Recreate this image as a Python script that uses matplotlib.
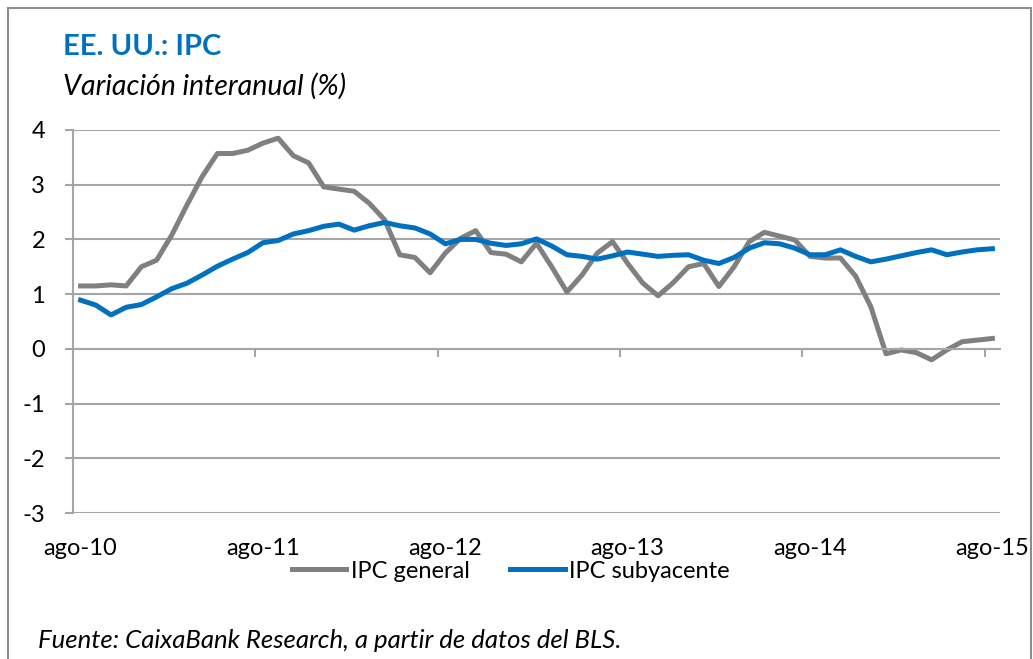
import matplotlib.pyplot as plt
from matplotlib.patches import Rectangle

plt.rcParams['font.family'] = ['Lato', 'DejaVu Sans']

# monthly, ago-10 .. ago-15
ipc_general = [1.15, 1.15, 1.17, 1.15, 1.50, 1.62, 2.08, 2.63, 3.15, 3.57,
               3.57, 3.63, 3.76, 3.85, 3.53, 3.40, 2.96, 2.92, 2.88, 2.66,
               2.36, 1.72, 1.67, 1.39, 1.75, 2.02, 2.16, 1.76, 1.73, 1.59,
               1.93, 1.50, 1.04, 1.35, 1.75, 1.96, 1.56, 1.20, 0.97, 1.21,
               1.50, 1.56, 1.14, 1.50, 1.96, 2.13, 2.06, 1.99, 1.69, 1.66,
               1.66, 1.33, 0.77, -0.09, -0.02, -0.07, -0.20, -0.02, 0.13, 0.16,
               0.19]
ipc_subyacente = [0.89, 0.80, 0.62, 0.76, 0.81, 0.95, 1.10, 1.20, 1.35, 1.51,
                  1.64, 1.76, 1.94, 1.98, 2.10, 2.16, 2.24, 2.28, 2.17, 2.25,
                  2.31, 2.25, 2.21, 2.10, 1.92, 2.00, 2.00, 1.93, 1.89, 1.92,
                  2.01, 1.88, 1.72, 1.69, 1.64, 1.70, 1.77, 1.73, 1.69, 1.71,
                  1.72, 1.62, 1.56, 1.67, 1.84, 1.94, 1.92, 1.84, 1.72, 1.72,
                  1.81, 1.69, 1.59, 1.64, 1.70, 1.76, 1.81, 1.72, 1.77, 1.81,
                  1.83]
x_labels = ['ago-10', 'ago-11', 'ago-12', 'ago-13', 'ago-14', 'ago-15']
y_ticks = [-3, -2, -1, 0, 1, 2, 3, 4]

GRAY = '#808080'
BLUE = '#0070C0'
GRID = '#A6A6A6'

fig = plt.figure(figsize=(10.33, 6.59), dpi=100)
ax = fig.add_axes([73 / 1033, 1 - 513 / 659, 927 / 1033, 383 / 659])

x = list(range(len(ipc_general)))
ax.plot(x, ipc_general, color=GRAY, lw=3.6, label='IPC general', solid_joinstyle='round')
ax.plot(x, ipc_subyacente, color=BLUE, lw=3.6, label='IPC subyacente', solid_joinstyle='round')

ax.set_xlim(-0.5, len(x) - 0.5)
ax.set_ylim(-3, 4)
ax.set_yticks(y_ticks)
ax.set_yticklabels([str(v) for v in y_ticks])
ax.grid(axis='y', color=GRID, lw=1.5)
ax.set_axisbelow(True)

for s in ['top', 'right']:
    ax.spines[s].set_visible(False)
ax.spines['left'].set_color(GRID)
ax.spines['left'].set_linewidth(1.5)
ax.spines['bottom'].set_position(('data', 0))
ax.spines['bottom'].set_color(GRID)
ax.spines['bottom'].set_linewidth(1.5)

ax.tick_params(axis='y', length=6, width=1.5, color=GRID, pad=14, labelsize=17)
ax.set_xticks([-0.5 + 12 * k for k in range(6)])
ax.set_xticklabels([])
ax.tick_params(axis='x', length=6, width=1.5, color=GRID, direction='out')

sec = ax.secondary_xaxis(0)
sec.set_xticks([12 * k for k in range(6)])
sec.set_xticklabels(x_labels)
sec.tick_params(length=0, pad=18, labelsize=17)
sec.spines['bottom'].set_visible(False)

fig.text(63 / 1033, 1 - 47 / 659, 'EE. UU.: IPC', color=BLUE, fontsize=21,
         fontweight='bold', va='center', ha='left')
fig.text(63 / 1033, 1 - 86 / 659, 'Variación interanual (%)', fontsize=20.5,
         style='italic', va='center', ha='left')
fig.text(38 / 1033, 1 - 641 / 659, 'Fuente: CaixaBank Research, a partir de datos del BLS.',
         fontsize=18.5, style='italic', va='center', ha='left')

fig.legend(loc='center', bbox_to_anchor=(511 / 1033, 1 - 571 / 659), ncol=2,
           frameon=False, fontsize=17, handlelength=2.3, handletextpad=0.2,
           columnspacing=1.7)

fig.patches.append(Rectangle((8 / 1033, -0.05), 1023 / 1033, 1.05 - 8 / 659,
                             transform=fig.transFigure, fill=False,
                             edgecolor='#8C8C8C', lw=1.5))

fig.savefig('out.png', dpi=100)
